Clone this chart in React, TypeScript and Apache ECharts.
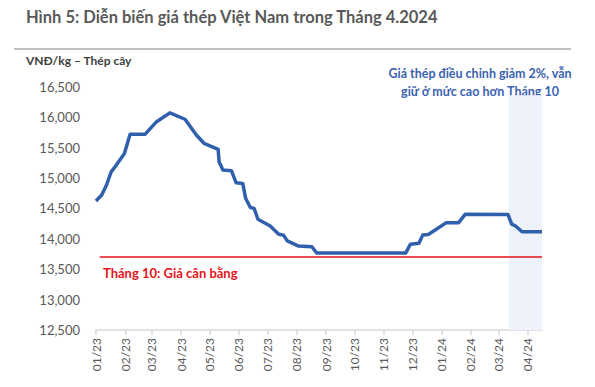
import React, { useEffect, useRef } from "react";
import * as echarts from "echarts";

const dates: string[] = [
  "2023-01-01", "2023-01-07", "2023-01-12", "2023-01-17", "2023-01-21", "2023-01-31",
  "2023-02-06", "2023-02-22", "2023-03-06", "2023-03-20", "2023-04-05", "2023-04-17",
  "2023-04-25", "2023-05-10", "2023-05-11", "2023-05-15", "2023-05-24", "2023-05-29",
  "2023-06-05", "2023-06-08", "2023-06-13", "2023-06-17", "2023-06-21", "2023-07-04",
  "2023-07-13", "2023-07-18", "2023-07-22", "2023-08-03", "2023-08-17", "2023-08-22",
  "2023-11-24", "2023-11-29", "2023-12-08", "2023-12-12", "2023-12-18", "2024-01-06",
  "2024-01-19", "2024-01-26", "2024-03-11", "2024-03-15", "2024-03-19", "2024-03-26",
  "2024-04-16",
];
const prices: number[] = [
  14620, 14720, 14880, 15100, 15180, 15400,
  15720, 15720, 15925, 16070, 15965, 15705,
  15570, 15470, 15265, 15130, 15120, 14920,
  14910, 14665, 14515, 14500, 14320, 14210,
  14075, 14060, 13965, 13880, 13870, 13765,
  13765, 13910, 13925, 14060, 14070, 14265,
  14265, 14405, 14400, 14240, 14210, 14115,
  14115,
];
const balancePrice = 13700;
const balanceStart = "2023-01-05";
const axisStart = "2023-01-01";
const axisEnd = "2024-04-16";
const highlightStart = "2024-03-12";
const highlightTop = 16360;
const yMin = 12500;
const yMax = 16500;
const yStep = 500;

const title = "Hình 5: Diễn biến giá thép Việt Nam trong Tháng 4.2024";
const unitLabel = "VNĐ/kg – Thép cây";
const noteLines = ["Giá thép điều chỉnh giảm 2%, vẫn", "giữ ở mức cao hơn Tháng 10"];
const balanceLabel = "Tháng 10: Giá cân bằng";

const FONT = "Lato, 'Open Sans', sans-serif";
const RED = "#e5131a";

export default function App() {
  const ref = useRef<HTMLDivElement>(null);
  useEffect(() => {
    if (!ref.current) return;
    const chart = echarts.init(ref.current, null, { renderer: "svg" });
    const data = dates.map((d, i) => [d, prices[i]]);
    chart.setOption({
      animation: false,
      backgroundColor: "#ffffff",
      textStyle: { fontFamily: FONT },
      grid: { left: 96, right: 53, top: 86.7, bottom: 57, containLabel: false },
      xAxis: {
        type: "time",
        min: axisStart,
        max: axisEnd,
        minInterval: 28 * 86400000,
        maxInterval: 31 * 86400000,
        axisLine: { show: true, lineStyle: { color: "#d9d9d9", width: 1.5 } },
        axisTick: { show: true, length: 5, lineStyle: { color: "#d9d9d9", width: 1.5 } },
        splitLine: { show: false },
        axisLabel: {
          rotate: 90,
          color: "#595959",
          fontSize: 12,
          fontFamily: FONT,
          margin: 8,
          showMaxLabel: false,
          hideOverlap: false,
          formatter: (v: number) => {
            const d = new Date(v);
            const m = String(d.getMonth() + 1).padStart(2, "0");
            const y = String(d.getFullYear() % 100).padStart(2, "0");
            return `${m}/${y}`;
          },
        },
      },
      yAxis: {
        type: "value",
        min: yMin,
        max: yMax,
        interval: yStep,
        axisLine: { show: false },
        axisTick: { show: false },
        splitLine: { show: false },
        axisLabel: {
          color: "#595959",
          fontSize: 13,
          fontFamily: FONT,
          margin: 16,
          formatter: (v: number) => v.toLocaleString("en-US"),
        },
      },
      series: [
        {
          type: "line",
          data: [
            [balanceStart, balancePrice],
            [axisEnd, balancePrice],
          ],
          showSymbol: false,
          symbol: "none",
          silent: true,
          lineStyle: { color: RED, width: 1.5 },
          itemStyle: { color: RED },
          z: 2,
          markArea: {
            silent: true,
            itemStyle: { color: "#eef2fb" },
            data: [[{ xAxis: highlightStart, yAxis: yMin }, { xAxis: axisEnd, yAxis: highlightTop }]],
          },
        },
        {
          type: "line",
          data,
          showSymbol: false,
          symbol: "none",
          lineStyle: { color: "#3060ac", width: 3.5, join: "round" },
          itemStyle: { color: "#3060ac" },
          z: 3,
        },
      ],
      graphic: [
        {
          type: "text",
          left: 26,
          top: 8,
          style: { text: title, fill: "#595959", font: `bold 16.5px ${FONT}` },
        },
        {
          type: "line",
          shape: { x1: 14, y1: 49, x2: 571, y2: 49 },
          style: { stroke: "#808080", lineWidth: 1 },
        },
        {
          type: "text",
          left: 26,
          top: 54,
          style: { text: unitLabel, fill: "#404040", font: `bold 12px ${FONT}` },
        },
        {
          type: "text",
          x: 480,
          y: 73,
          style: {
            text: noteLines[0],
            fill: "#3a62b0",
            font: `bold 12.5px ${FONT}`,
            align: "center",
            verticalAlign: "middle",
          },
        },
        {
          type: "text",
          x: 480,
          y: 91,
          style: {
            text: noteLines[1],
            fill: "#3a62b0",
            font: `bold 12.5px ${FONT}`,
            align: "center",
            verticalAlign: "middle",
          },
        },
        {
          type: "text",
          x: 103,
          y: 273,
          style: {
            text: balanceLabel,
            fill: RED,
            font: `bold 13px ${FONT}`,
            align: "left",
            verticalAlign: "middle",
          },
        },
      ],
    });
    return () => chart.dispose();
  }, []);
  return <div ref={ref} style={{ width: 595, height: 387, position: "absolute", left: 0, top: 0 }} />;
}
